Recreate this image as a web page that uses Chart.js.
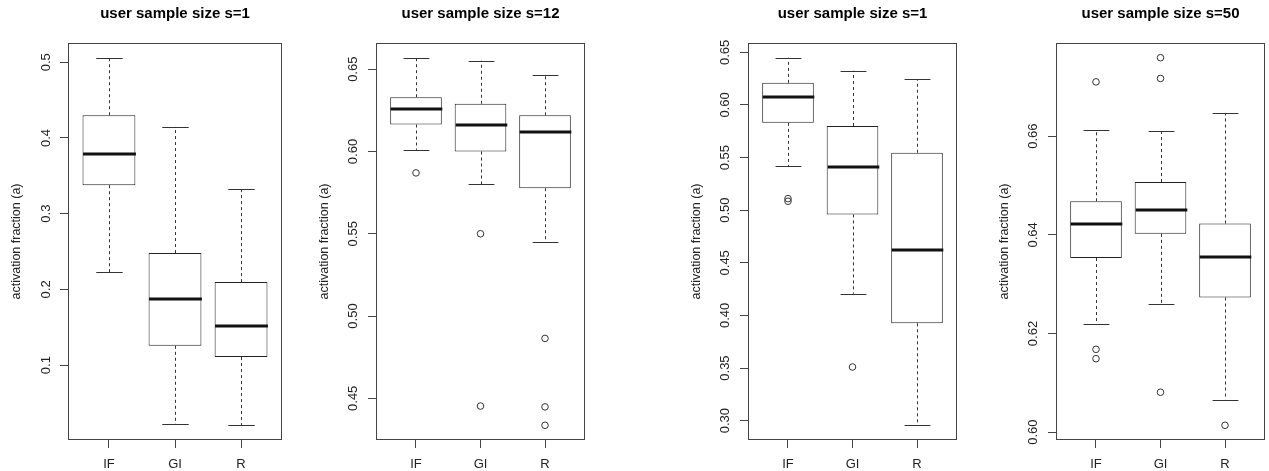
<!DOCTYPE html>
<html>
<head>
<meta charset="utf-8">
<script src="https://cdn.jsdelivr.net/npm/chart.js@4.4.0/dist/chart.umd.min.js"></script>
<style>
  html, body { margin: 0; padding: 0; background: #fff; overflow: hidden; }
  #wrap { position: relative; width: 1269px; height: 471px; }
  .panel { position: absolute; top: 0; width: 282px; height: 471px; }
</style>
</head>
<body>
<div id="wrap"></div>
<script>
// groups on the x axis
const categories = ['IF', 'GI', 'R'];
const titles = ['user sample size s=1', 'user sample size s=12', 'user sample size s=1', 'user sample size s=50'];

// one row per panel, one value per category
const whiskerLow = [
  [0.223, 0.022, 0.0205],
  [0.601, 0.580, 0.5452],
  [0.542, 0.4206, 0.2956],
  [0.6219, 0.6259, 0.6066]
];
const boxLow = [
  [0.3376, 0.1255, 0.1106],
  [0.6164, 0.600, 0.5777],
  [0.583, 0.496, 0.3925],
  [0.6353, 0.6402, 0.6273]
];
const medians = [
  [0.379, 0.1875, 0.152],
  [0.626, 0.616, 0.612],
  [0.6078, 0.5413, 0.462],
  [0.6422, 0.645, 0.6355]
];
const boxHigh = [
  [0.430, 0.248, 0.2096],
  [0.633, 0.629, 0.622],
  [0.621, 0.580, 0.5546],
  [0.6468, 0.6507, 0.6423]
];
const whiskerHigh = [
  [0.506, 0.4146, 0.333],
  [0.657, 0.6552, 0.6467],
  [0.6449, 0.6325, 0.6243],
  [0.6612, 0.661, 0.6646]
];
const outliers = [
  [[], [], []],
  [[0.587], [0.550, 0.4453], [0.4864, 0.4448, 0.4336]],
  [[0.511, 0.5085], [0.351], []],
  [[0.671, 0.6168, 0.6149], [0.6759, 0.6717, 0.6081], [0.6014]]
];

const yTicks = [
  [0.1, 0.2, 0.3, 0.4, 0.5],
  [0.45, 0.50, 0.55, 0.60, 0.65],
  [0.30, 0.35, 0.40, 0.45, 0.50, 0.55, 0.60, 0.65],
  [0.60, 0.62, 0.64, 0.66]
];
const yTickLabels = [
  ['0.1', '0.2', '0.3', '0.4', '0.5'],
  ['0.45', '0.50', '0.55', '0.60', '0.65'],
  ['0.30', '0.35', '0.40', '0.45', '0.50', '0.55', '0.60', '0.65'],
  ['0.60', '0.62', '0.64', '0.66']
];

const panelLeft = [0, 308, 680, 988];
const tickPad = [5, 1.5, 1.5, 1.5];
const FONT = 'Liberation Sans, Arial, sans-serif';

// whiskers, caps, medians and the frame (R's box())
const boxLines = {
  id: 'boxLines',
  afterDatasetsDraw(chart, args, opts) {
    const p = opts.panel;
    const x = chart.scales.x, y = chart.scales.y, ctx = chart.ctx;
    const half = x.getPixelForValue(1.4) - x.getPixelForValue(1);
    const cap = half / 2;
    ctx.save();
    categories.forEach((c, i) => {
      const cx = Math.round(x.getPixelForValue(i + 1)) + 0.5;
      ctx.strokeStyle = '#333';
      ctx.lineWidth = 1;
      ctx.setLineDash([3, 3]);
      ctx.beginPath();
      ctx.moveTo(cx, y.getPixelForValue(boxHigh[p][i]));
      ctx.lineTo(cx, y.getPixelForValue(whiskerHigh[p][i]));
      ctx.moveTo(cx, y.getPixelForValue(boxLow[p][i]));
      ctx.lineTo(cx, y.getPixelForValue(whiskerLow[p][i]));
      ctx.stroke();
      ctx.setLineDash([]);
      ctx.beginPath();
      [whiskerHigh, whiskerLow].forEach(arr => {
        const yy = Math.round(y.getPixelForValue(arr[p][i])) + 0.5;
        ctx.moveTo(cx - cap, yy);
        ctx.lineTo(cx + cap, yy);
      });
      ctx.stroke();
      ctx.strokeStyle = '#111';
      ctx.lineWidth = 3;
      const ym = Math.round(y.getPixelForValue(medians[p][i]));
      ctx.beginPath();
      ctx.moveTo(cx - half, ym);
      ctx.lineTo(cx + half, ym);
      ctx.stroke();
    });
    const a = chart.chartArea;
    ctx.strokeStyle = '#444';
    ctx.lineWidth = 1;
    ctx.strokeRect(a.left + 0.5, a.top + 0.5, a.right - a.left - 1, a.bottom - a.top - 1);
    ctx.restore();
  }
};

function yRange(p) {
  const vals = [...whiskerLow[p], ...whiskerHigh[p], ...outliers[p].flat()];
  const lo = Math.min(...vals), hi = Math.max(...vals), ext = (hi - lo) * 0.04;
  return [lo - ext, hi + ext];
}

const n = categories.length;
const xMin = 0.5 - 0.04 * n, xMax = n + 0.5 + 0.04 * n;

titles.forEach((t, p) => {
  const div = document.createElement('div');
  div.className = 'panel';
  div.style.left = panelLeft[p] + 'px';
  const cv = document.createElement('canvas');
  cv.width = 282;
  cv.height = 471;
  div.appendChild(cv);
  document.getElementById('wrap').appendChild(div);

  const [yMin, yMax] = yRange(p);
  const outlierPts = [];
  outliers[p].forEach((list, i) => list.forEach(v => outlierPts.push({ x: i + 1, y: v })));

  new Chart(cv, {
    type: 'bar',
    data: {
      datasets: [
        {
          type: 'scatter',
          data: outlierPts,
          pointStyle: 'circle',
          radius: 3.3,
          borderColor: '#333',
          borderWidth: 1,
          backgroundColor: 'rgba(0,0,0,0)'
        },
        {
          type: 'bar',
          data: categories.map((c, i) => ({ x: i + 1, y: [boxLow[p][i], boxHigh[p][i]] })),
          backgroundColor: '#fff',
          borderColor: '#222',
          borderWidth: 1,
          borderSkipped: false,
          barPercentage: 0.8,
          categoryPercentage: 1
        }
      ]
    },
    options: {
      responsive: false,
      animation: false,
      devicePixelRatio: 1,
      layout: { padding: 0 },
      plugins: {
        legend: { display: false },
        tooltip: { enabled: false },
        title: {
          display: true,
          text: t,
          color: '#000',
          fullSize: false,
          font: { family: FONT, size: 15, weight: 'bold' },
          padding: { top: 4.5, bottom: 20.5 }
        },
        boxLines: { panel: p }
      },
      scales: {
        x: {
          type: 'linear',
          min: xMin,
          max: xMax,
          offset: false,
          afterBuildTicks: s => { s.ticks = categories.map((c, i) => ({ value: i + 1 })); },
          afterFit: s => { s.height = 31; },
          ticks: {
            autoSkip: false,
            maxRotation: 0,
            padding: 9,
            color: '#222',
            font: { family: FONT, size: 13 },
            callback: (v, i) => categories[i]
          },
          grid: { drawOnChartArea: false, tickLength: 8, color: '#444', offset: false },
          border: { display: false }
        },
        y: {
          min: yMin,
          max: yMax,
          afterBuildTicks: s => { s.ticks = yTicks[p].map(v => ({ value: v })); },
          afterFit: s => { s.width = 68; },
          ticks: {
            autoSkip: false,
            minRotation: 90,
            maxRotation: 90,
            crossAlign: 'center',
            padding: tickPad[p],
            color: '#222',
            font: { family: FONT, size: 13 },
            callback: (v, i) => yTickLabels[p][i]
          },
          grid: { drawOnChartArea: false, tickLength: 8, color: '#444' },
          border: { display: false },
          title: {
            display: true,
            text: 'activation fraction (a)',
            color: '#222',
            font: { family: FONT, size: 12.5 },
            padding: { top: 9.5, bottom: 0 }
          }
        }
      }
    },
    plugins: [boxLines]
  });
});
</script>
</body>
</html>
